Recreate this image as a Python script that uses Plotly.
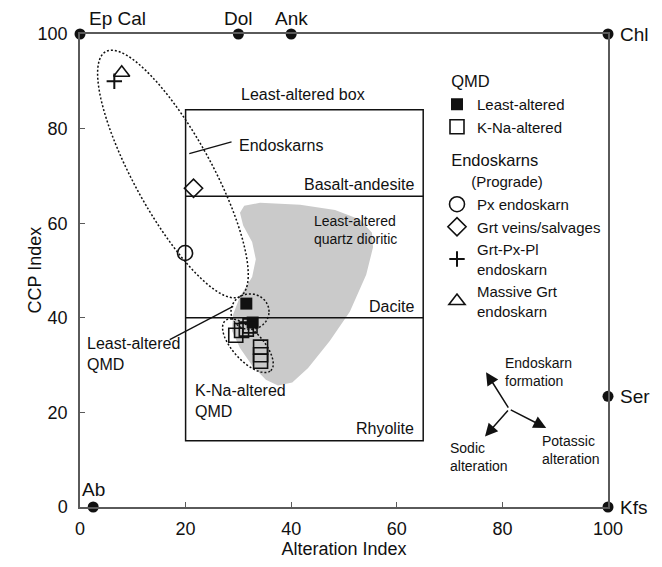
import numpy as np
import plotly.graph_objects as go

# ---------------- data ----------------
LA_X = [31.5, 32.7]                      # QMD least-altered (filled squares)
LA_Y = [43.0, 39.0]
KNA_X = [29.5, 30.6, 31.5, 32.2, 34.2, 34.2, 34.2]   # QMD K-Na-altered (open squares)
KNA_Y = [36.3, 37.3, 37.6, 38.3, 33.8, 32.2, 30.8]
PX_X, PX_Y = [19.9], [53.7]              # Px endoskarn
GV_X, GV_Y = [21.5], [67.4]              # Grt veins/salvages
GPP_X, GPP_Y = [6.5], [90.0]             # Grt-Px-Pl endoskarn
MG_X, MG_Y = [7.9], [91.8]               # Massive Grt endoskarn

EM_NAMES = ["Ep Cal", "Dol", "Ank", "Chl", "Ser", "Kfs", "Ab"]   # end-members
EM_X = [0, 30, 40, 100, 100, 100, 2.5]
EM_Y = [100, 100, 100, 100, 23.4, 0, 0]

# least-altered box and its field boundaries
BOX_X = [20, 65]
BOX_Y = [14, 84]
FIELD_Y = [65.7, 40.0]                   # Basalt-andesite / Dacite limits

# least-altered quartz dioritic field (grey)
GRAY_X = [31.1, 34.1, 41.7, 48.3, 53.0, 55.3, 55.5, 54.2, 51.1, 47.3, 43.2, 40.2,
          37.5, 35.2, 32.6, 30.3, 28.8, 29.0, 30.3, 32.6, 33.3, 32.6, 30.9, 30.3]
GRAY_Y = [63.7, 64.3, 63.9, 62.8, 60.8, 58.0, 54.9, 49.1, 41.3, 35.1, 29.4, 26.3,
          25.7, 26.9, 29.9, 33.6, 37.2, 40.7, 44.5, 48.6, 52.4, 56.0, 59.5, 62.2]

# ---------------- layout constants ----------------
W, H = 662, 567
ML, MR, MT, MB = 80, 54, 34, 54
PXX = (W - ML - MR) / 100.0
PXY = (H - MT - MB) / 100.0
FONT = "Liberation Sans, Arial, Helvetica, sans-serif"
INK = "#111111"


def ellipse_path(cx, cy, a_px, b_px, ang_deg, n=160):
    t = np.linspace(0, 2 * np.pi, n)
    th = np.radians(ang_deg)
    dx = a_px * np.cos(t) * np.cos(th) - b_px * np.sin(t) * np.sin(th)
    dy = a_px * np.cos(t) * np.sin(th) + b_px * np.sin(t) * np.cos(th)
    xs = cx + dx / PXX
    ys = cy + dy / PXY
    pts = " L ".join(f"{x:.3f},{y:.3f}" for x, y in zip(xs, ys))
    return "M " + pts + " Z"


fig = go.Figure()

# grey field
fig.add_trace(go.Scatter(x=GRAY_X, y=GRAY_Y, mode="lines", fill="toself",
                         fillcolor="#cacaca", line=dict(width=0, color="#cacaca"),
                         hoverinfo="skip", showlegend=False))

mk_line = dict(color=INK, width=1.6)
fig.add_trace(go.Scatter(x=LA_X, y=LA_Y, mode="markers", name="Least-altered",
                         legendgroup="qmd",
                         legendgrouptitle=dict(text="\u00a0\u00a0QMD", font=dict(size=16.5, color=INK)),
                         marker=dict(symbol="square", size=12, color=INK, line=dict(width=0))))
fig.add_trace(go.Scatter(x=KNA_X, y=KNA_Y, mode="markers", name="K-Na-altered",
                         legendgroup="qmd",
                         marker=dict(symbol="square-open", size=14, color=INK, line=mk_line)))
fig.add_trace(go.Scatter(x=PX_X, y=PX_Y, mode="markers", name="Px endoskarn",
                         legendgroup="endo",
                         legendgrouptitle=dict(
                             text="\u00a0\u00a0Endoskarns<br><span style='font-size:15px'>"
                                  + "\u00a0" * 7 + "(Prograde)</span>",
                             font=dict(size=16.5, color=INK)),
                         marker=dict(symbol="circle-open", size=15, color=INK, line=mk_line)))
fig.add_trace(go.Scatter(x=GV_X, y=GV_Y, mode="markers", name="Grt veins/salvages",
                         legendgroup="endo",
                         marker=dict(symbol="diamond-open", size=14, color=INK, line=mk_line)))
fig.add_trace(go.Scatter(x=GPP_X, y=GPP_Y, mode="markers", name="Grt-Px-Pl<br>endoskarn",
                         legendgroup="endo",
                         marker=dict(symbol="cross-thin-open", size=11, color=INK,
                                     line=dict(color=INK, width=2))))
fig.add_trace(go.Scatter(x=MG_X, y=MG_Y, mode="markers", name="Massive Grt<br>endoskarn",
                         legendgroup="endo",
                         marker=dict(symbol="triangle-up-open", size=14, color=INK, line=mk_line)))

# end-member dots
fig.add_trace(go.Scatter(x=EM_X, y=EM_Y, mode="markers", showlegend=False, cliponaxis=False,
                         hoverinfo="skip",
                         marker=dict(symbol="circle", size=11, color=INK)))

shapes = []
# least-altered box and field lines
shapes.append(dict(type="rect", xref="x", yref="y", x0=BOX_X[0], x1=BOX_X[1],
                   y0=BOX_Y[0], y1=BOX_Y[1], line=dict(color=INK, width=1.5)))
for fy in FIELD_Y:
    shapes.append(dict(type="line", xref="x", yref="y", x0=BOX_X[0], x1=BOX_X[1],
                       y0=fy, y1=fy, line=dict(color=INK, width=1.5)))
# dotted envelopes
dot = dict(color=INK, width=1.5, dash="2px,2px")
shapes.append(dict(type="path", xref="x", yref="y", path=ellipse_path(17.6, 70.4, 141, 39, -61.6), line=dot))
shapes.append(dict(type="path", xref="x", yref="y", path=ellipse_path(32.2, 41.3, 19, 18, 0), line=dot))
shapes.append(dict(type="path", xref="x", yref="y", path=ellipse_path(31.8, 34.1, 34, 15, -48), line=dot))
# leader lines
lead = dict(color=INK, width=1.3)
shapes.append(dict(type="line", xref="x", yref="y", x0=20.7, y0=74.7, x1=28.7, y1=77.2, line=lead))
shapes.append(dict(type="line", xref="x", yref="y", x0=17.0, y0=35.4, x1=29.0, y1=42.4, line=lead))

ann = []


def txt(x, y, s, size=16, xa="left", ya="middle", xs=0, ys=0, align="left"):
    ann.append(dict(x=x, y=y, xref="x", yref="y", text=s, showarrow=False,
                    xanchor=xa, yanchor=ya, xshift=xs, yshift=ys, align=align,
                    font=dict(family=FONT, size=size, color=INK)))


# end-member labels
txt(EM_X[0], EM_Y[0], EM_NAMES[0], 19, "left", "bottom", 7, 3)
txt(EM_X[1], EM_Y[1], EM_NAMES[1], 19, "center", "bottom", 0, 3)
txt(EM_X[2], EM_Y[2], EM_NAMES[2], 19, "center", "bottom", 0, 3)
txt(EM_X[3], EM_Y[3], EM_NAMES[3], 19, "left", "middle", 10, 0)
txt(EM_X[4], EM_Y[4], EM_NAMES[4], 19, "left", "middle", 10, 0)
txt(EM_X[5], EM_Y[5], EM_NAMES[5], 19, "left", "middle", 10, 0)
txt(EM_X[6], EM_Y[6], EM_NAMES[6], 19, "center", "bottom", 0, 5)

# field labels
txt(42.3, 87.3, "Least-altered box", 16, "center")
txt(63.6, 68.1, "Basalt-andesite", 16, "right")
txt(63.6, 42.4, "Dacite", 16, "right")
txt(63.6, 16.5, "Rhyolite", 16, "right")
txt(44.0, 58.6, "Least-altered<br>quartz dioritic", 14, "left")
txt(29.7, 76.5, "Endoskarns", 16, "left")
txt(0.9, 32.4, "Least-altered<br>QMD", 16, "left")
txt(21.4, 22.4, "K-Na-altered<br>QMD", 16, "left")

# process arrows
CEN = (81.3, 20.7)
for tx, ty in [(76.9, 28.5), (76.7, 14.9), (88.3, 16.7)]:
    ann.append(dict(x=tx, y=ty, ax=CEN[0], ay=CEN[1], xref="x", yref="y", axref="x", ayref="y",
                    text="", showarrow=True, arrowhead=2, arrowsize=1.7, arrowwidth=1.5,
                    arrowcolor=INK, standoff=0))
txt(80.1, 28.5, "Endoskarn<br>formation", 14, "left")
txt(69.7, 10.5, "Sodic<br>alteration", 14, "left")
txt(87.1, 12.1, "Potassic<br>alteration", 14, "left")

# y-axis title placed close to the two-digit tick labels
ann.append(dict(x=(34 - ML) / (W - ML - MR), y=0.5, xref="paper", yref="paper",
                text="CCP Index", textangle=-90, showarrow=False,
                xanchor="center", yanchor="middle",
                font=dict(family=FONT, size=18, color=INK)))

axis_common = dict(range=[0, 100], showgrid=False, zeroline=False, showline=True,
                   linecolor="#5a5a5a", linewidth=1.5, mirror=True,
                   ticks="inside", ticklen=5, tickcolor="#5a5a5a", tickwidth=1.2,
                   tickfont=dict(family=FONT, size=18, color=INK), dtick=20, tick0=0)

fig.update_layout(
    width=W, height=H,
    margin=dict(l=ML, r=MR, t=MT, b=MB, pad=0),
    paper_bgcolor="white", plot_bgcolor="white",
    font=dict(family=FONT, color=INK),
    xaxis=dict(axis_common, title=dict(text="Alteration Index",
                                       font=dict(family=FONT, size=18, color=INK), standoff=3),
               ticklabelstandoff=5),
    yaxis=dict(axis_common, ticklabelstandoff=7),
    shapes=shapes,
    annotations=ann,
    showlegend=True,
    legend=dict(x=(437 - ML) / (W - ML - MR), xanchor="left",
                y=(H - MB - 64) / (H - MT - MB), yanchor="top",
                bgcolor="rgba(0,0,0,0)", borderwidth=0,
                font=dict(family=FONT, size=15, color=INK),
                traceorder="grouped", tracegroupgap=9, itemsizing="trace"),
)

fig.write_html("out.html")
